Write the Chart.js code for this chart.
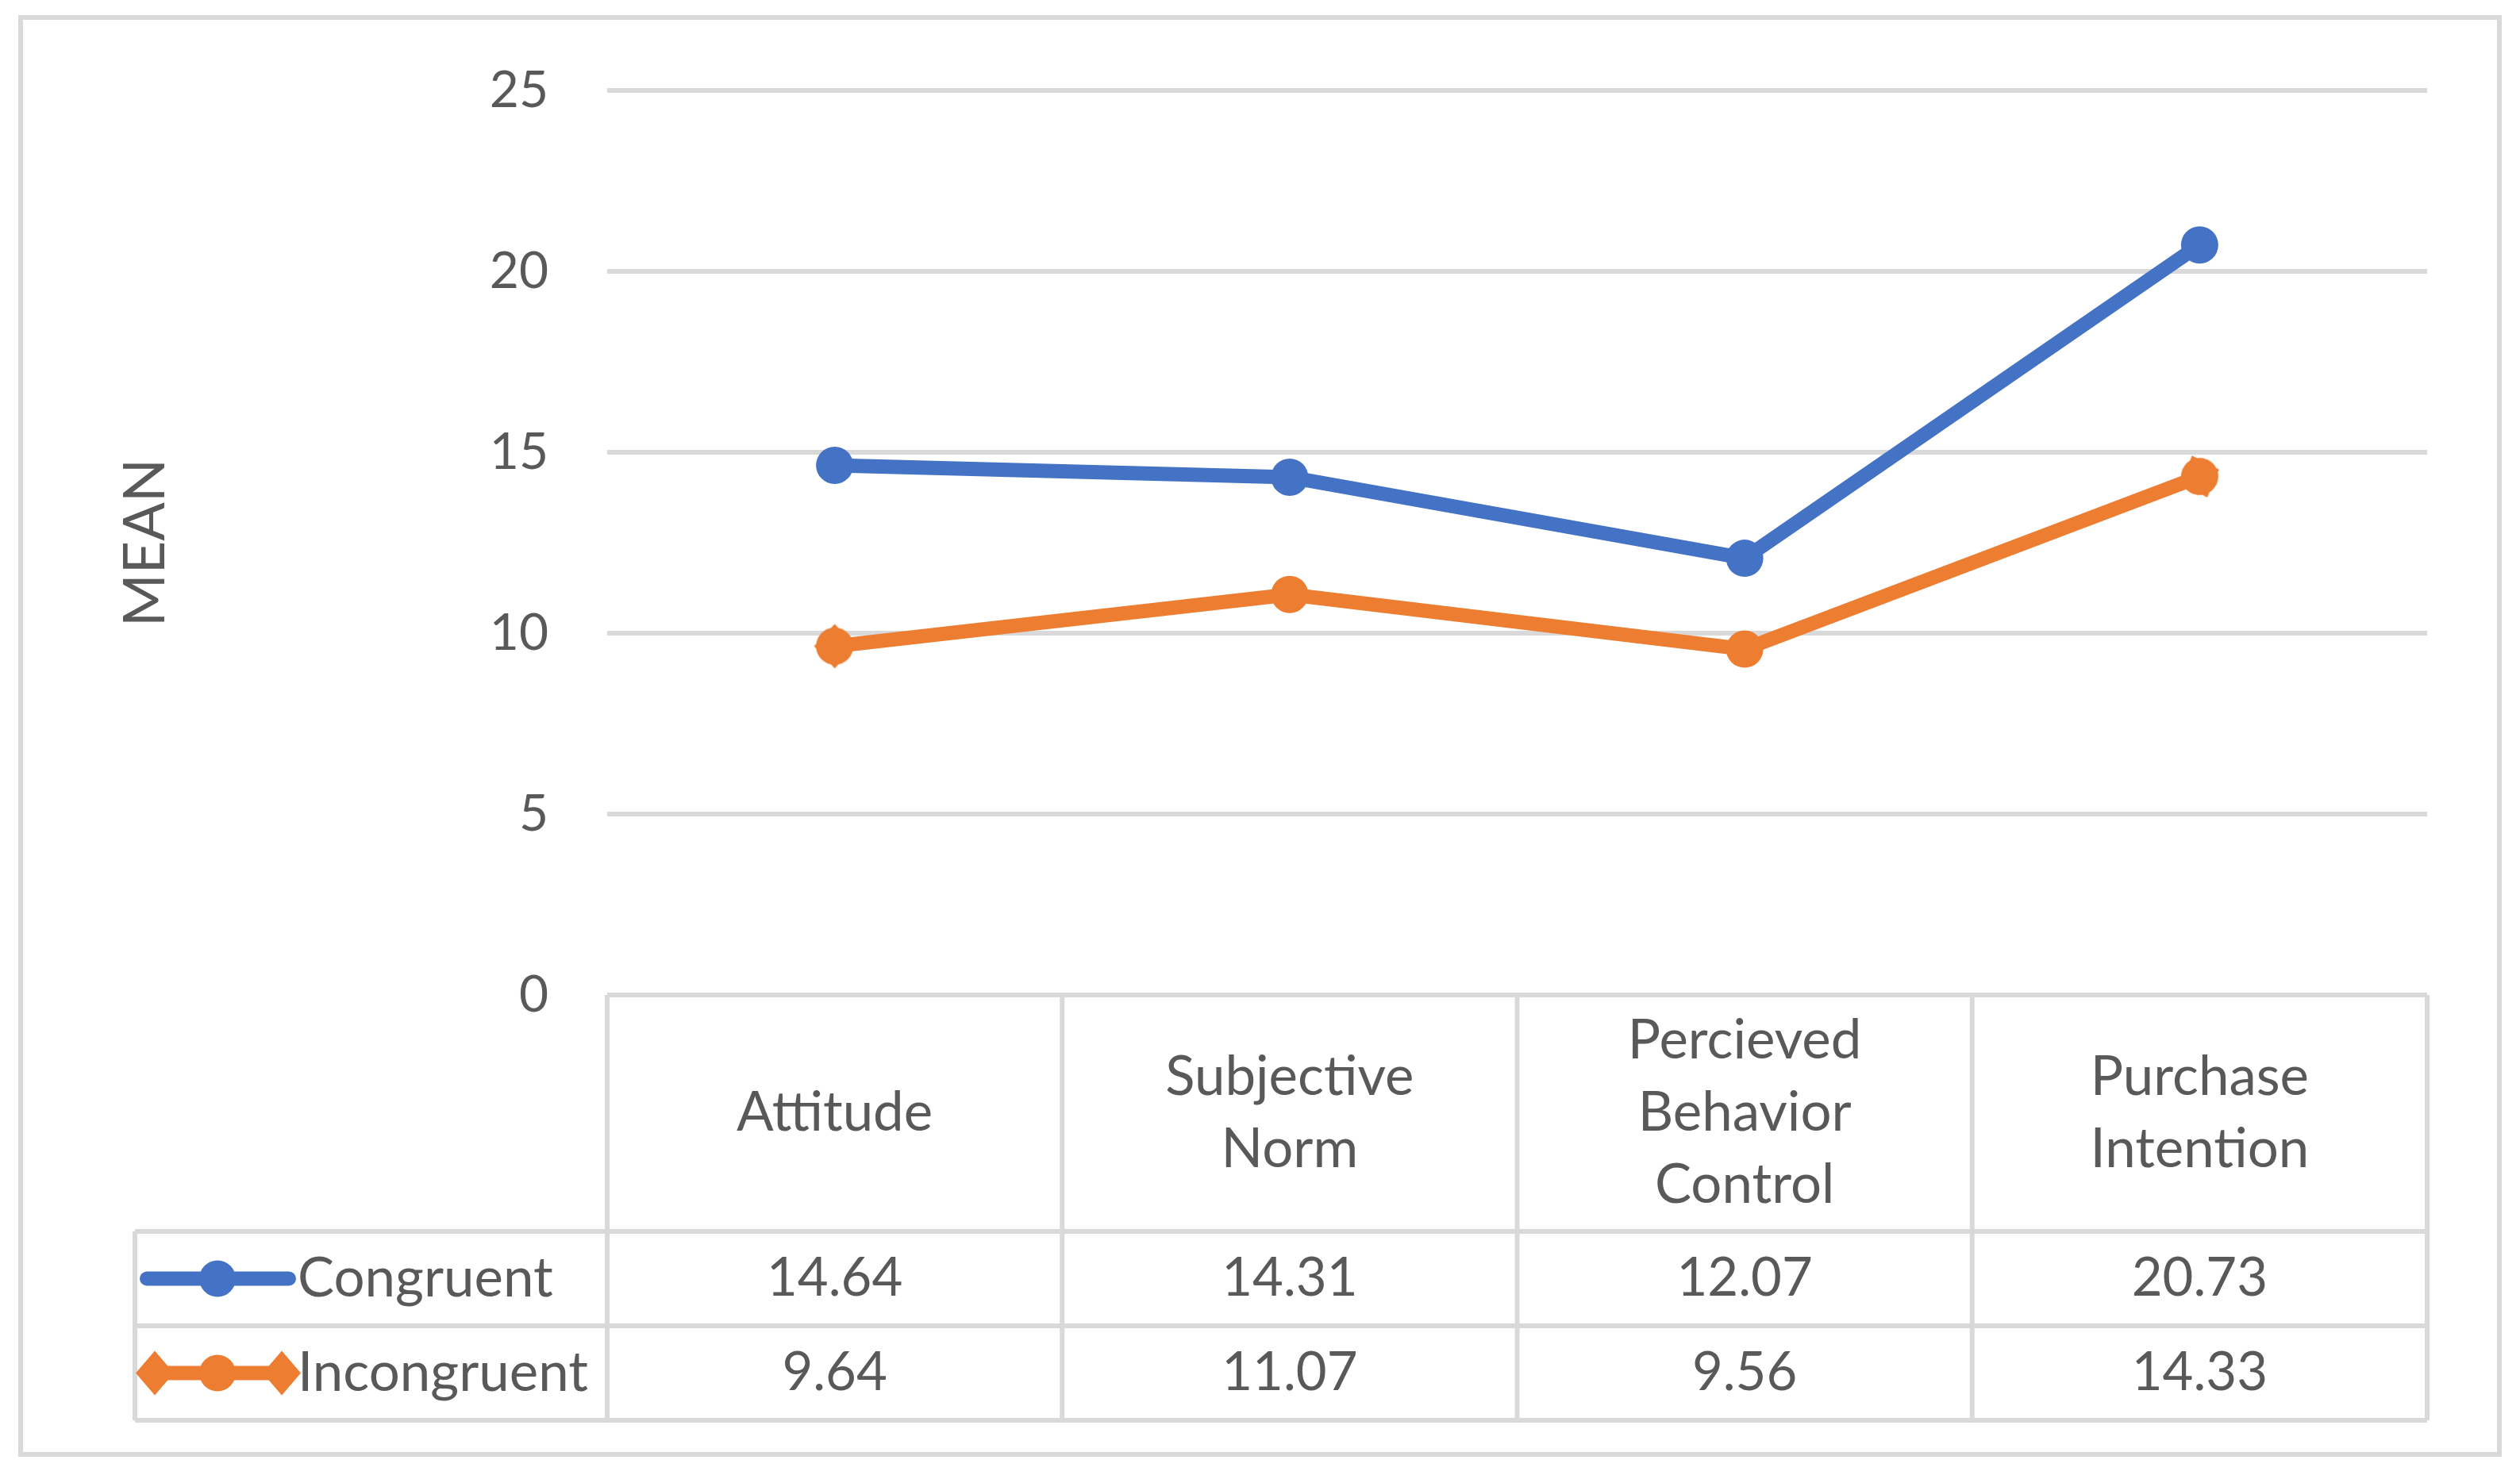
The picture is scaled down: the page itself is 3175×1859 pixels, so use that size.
<!DOCTYPE html>
<html>
<head>
<meta charset="utf-8">
<script src="https://cdn.jsdelivr.net/npm/chart.js@4.4.1/dist/chart.umd.min.js"></script>
<style>
  html, body { margin: 0; padding: 0; background: #fff; overflow: hidden; }
  #wrap { width: 3175px; height: 1859px; position: relative; }
</style>
</head>
<body>
<div id="wrap"><canvas id="meanChart"></canvas></div>
<script>
const categories = [['Attitude'], ['Subjective', 'Norm'], ['Percieved', 'Behavior', 'Control'], ['Purchase', 'Intention']]
const seriesNames = ['Congruent', 'Incongruent']
const congruent = [14.64, 14.31, 12.07, 20.73]
const incongruent = [9.64, 11.07, 9.56, 14.33]
const yTicks = [0, 5, 10, 15, 20, 25]

const blue = '#4472C4'
const orange = '#ED7D31'
const gridColor = '#D9D9D9'
const textColor = '#595959'

Chart.defaults.font.family = 'Lato'
Chart.defaults.color = textColor

// orange marker in the reference is a circle sitting over a diamond
function makeDiamondDot(color) {
    const c = document.createElement('canvas')
    c.width = 60
    c.height = 60
    const g = c.getContext('2d')
    g.fillStyle = color
    g.beginPath()
    g.moveTo(30, 2); g.lineTo(56, 30); g.lineTo(30, 58); g.lineTo(4, 30)
    g.closePath()
    g.fill()
    g.beginPath()
    g.arc(30, 30, 23.5, 0, Math.PI * 2)
    g.fill()
    return c
}

function legendMarker(ctx, x, y, color, diamond) {
    ctx.fillStyle = color
    if (diamond) {
        ctx.beginPath()
        ctx.moveTo(x, y - 28); ctx.lineTo(x + 24, y); ctx.lineTo(x, y + 28); ctx.lineTo(x - 24, y)
        ctx.closePath()
        ctx.fill()
    } else {
        ctx.beginPath()
        ctx.arc(x, y, 23, 0, Math.PI * 2)
        ctx.fill()
    }
}

const dataTablePlugin = {
    id: 'dataTable',
    afterDraw(chart) {
        const ctx = chart.ctx
        const x = chart.scales.x
        const area = chart.chartArea
        const labels = chart.data.labels
        const colW = x.width / labels.length
        const top = area.bottom
        const headH = 298
        const rowH = 119
        const r1 = top + headH
        const r2 = r1 + rowH
        const r3 = r2 + rowH
        const legendLeft = 170

        ctx.save()
        // outer frame
        ctx.strokeStyle = gridColor
        ctx.lineWidth = 6
        ctx.strokeRect(26, 22, 3123, 1811)

        ctx.beginPath()
        for (let i = 0; i <= labels.length; i++) {
            const px = x.left + i * colW
            ctx.moveTo(px, top)
            ctx.lineTo(px, r3)
        }
        ;[r1, r2, r3].forEach(ry => {
            ctx.moveTo(legendLeft, ry)
            ctx.lineTo(x.right, ry)
        })
        ctx.moveTo(legendLeft, r1)
        ctx.lineTo(legendLeft, r3)
        ctx.stroke()

        ctx.fillStyle = textColor
        ctx.font = '69px Lato'
        ctx.textAlign = 'center'
        ctx.textBaseline = 'middle'
        const lineH = 91
        labels.forEach((lines, i) => {
            const cx = x.getPixelForValue(i)
            const startY = (top + r1) / 2 - (lines.length - 1) * lineH / 2
            lines.forEach((t, j) => ctx.fillText(t, cx, startY + j * lineH))
        })

        ctx.font = '67px Lato'
        const rowsY = [(r1 + r2) / 2, (r2 + r3) / 2]
        chart.data.datasets.forEach((ds, k) => {
            ctx.fillStyle = textColor
            ctx.textAlign = 'center'
            ds.data.forEach((v, i) => ctx.fillText(v.toFixed(2), x.getPixelForValue(i), rowsY[k]))

            const y = rowsY[k]
            const color = ds.borderColor
            const isDiamond = k === 1
            const x0 = legendLeft + (isDiamond ? 25 : 15)
            const x1 = legendLeft + (isDiamond ? 185 : 194)
            ctx.strokeStyle = color
            ctx.lineWidth = 18
            ctx.lineCap = 'round'
            ctx.beginPath()
            ctx.moveTo(x0, y)
            ctx.lineTo(x1, y)
            ctx.stroke()
            if (isDiamond) {
                legendMarker(ctx, x0, y, color, true)
                legendMarker(ctx, x1, y, color, true)
            }
            legendMarker(ctx, legendLeft + 104, y, color, false)

            ctx.fillStyle = textColor
            ctx.textAlign = 'left'
            ctx.font = '69px Lato'
            ctx.fillText(ds.label, legendLeft + 205, y)
            ctx.font = '67px Lato'
        })
        ctx.restore()
    }
}

function renderChart() {
    const diamondDot = makeDiamondDot(orange)
    const ctx = document.getElementById('meanChart')
    new Chart(ctx, {
        type: 'line',
        data: {
            labels: categories,
            datasets: [{
                label: seriesNames[0],
                data: congruent,
                borderColor: blue,
                backgroundColor: blue,
                borderWidth: 18,
                pointRadius: 23.5,
                pointBorderWidth: 0,
                pointBackgroundColor: blue,
                tension: 0
            }, {
                label: seriesNames[1],
                data: incongruent,
                borderColor: orange,
                backgroundColor: orange,
                borderWidth: 18,
                pointRadius: 23.5,
                pointBorderWidth: 0,
                pointBackgroundColor: orange,
                pointStyle: [diamondDot, 'circle', 'circle', diamondDot],
                pointRotation: [0, 0, 0, -20],
                tension: 0
            }]
        },
        options: {
            responsive: true,
            maintainAspectRatio: false,
            devicePixelRatio: 1,
            animation: false,
            layout: { padding: { top: 114, bottom: 69, left: 30, right: 117 } },
            plugins: {
                legend: { display: false },
                tooltip: { enabled: false }
            },
            scales: {
                x: {
                    type: 'category',
                    offset: true,
                    grid: { display: false },
                    border: { display: false },
                    ticks: { display: false },
                    afterFit: s => { s.height = 536 }
                },
                y: {
                    min: yTicks[0],
                    max: yTicks[yTicks.length - 1],
                    afterBuildTicks: s => { s.ticks = yTicks.map(v => ({ value: v })) },
                    grid: { color: gridColor, lineWidth: 6, drawTicks: false },
                    border: { display: false },
                    ticks: { padding: 74, font: { size: 64 }, color: textColor },
                    title: {
                        display: true,
                        text: 'MEAN',
                        color: textColor,
                        font: { size: 72 },
                        padding: { top: 111, bottom: 0 }
                    },
                    afterFit: s => { s.width = 735 }
                }
            }
        },
        plugins: [dataTablePlugin]
    })
}

document.fonts.load('64px Lato').then(renderChart, renderChart)
</script>
</body>
</html>
